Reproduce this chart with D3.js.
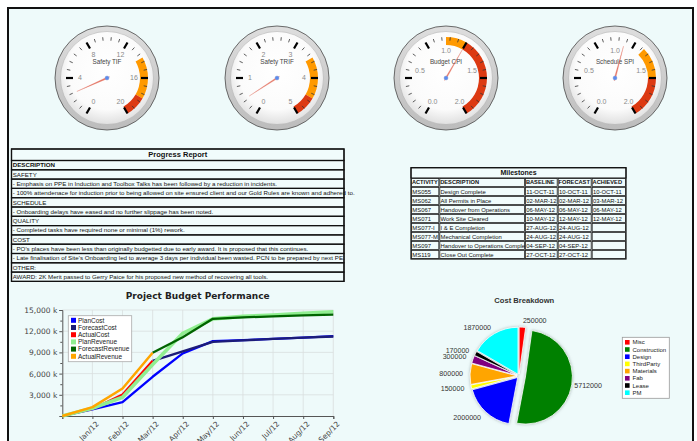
<!DOCTYPE html>
<html>
<head>
<meta charset="utf-8">
<script src="https://cdn.jsdelivr.net/npm/d3@7"></script>
<style>
  body { margin: 0; background: #fff; }
  svg { display: block; }
</style>
</head>
<body>
<svg id="dash" width="697" height="441"></svg>
<script>
// ---------- Gauges ----------
const gaugeTitles = ["Safety TIF", "Safety TRIF", "Budget CPI", "Schedule SPI"];
const gaugeValues = [2.4, 0.45, 1.2, 1.1];
const gaugeMax = [20, 5, 2, 2];
const gaugeLabels = [
  ["0", "4", "8", "12", "16", "20"],
  ["0", "1", "2", "3", "4", "5"],
  ["0.0", "0.5", "1.0", "1.5", "2.0"],
  ["0.0", "0.5", "1.0", "1.5", "2.0"]
];
const gaugeYellowFrom = [14, 3.5, 1.0, 1.3];
const gaugeYellowTo = [18, 4.5, 1.2, 1.6];
const gaugeRedFrom = [18, 4.5, 1.2, 1.6];
const gaugeRedTo = [20, 5, 2, 2];

// ---------- Progress report ----------
const reportTitle = "Progress Report";
const reportRows = [
  "DESCRIPTION",
  "SAFETY",
  "- Emphasis on PPE in Induction and Toolbox Talks has been followed by a reduction in incidents.",
  "- 100% attendenace for induction prior to being allowed on site ensured client and our Gold Rules are known and adhered to.",
  "SCHEDULE",
  "- Onboarding delays have eased and no further slippage has been noted.",
  "QUALITY",
  "- Completed tasks have required none or minimal (1%) rework.",
  "COST",
  "- PO's places have been less than originally budgetted due to early award. It is proposed that this continues.",
  "- Late finalisation of Site's Onboarding led to average 3 days per individual been wasted. PCN to be prepared by next PE.",
  "OTHER:",
  "AWARD: 2K Merit passed to Gerry Paice for his proposed new method of recovering all tools."
];
const reportBoldRows = ["DESCRIPTION"];

// ---------- Milestones ----------
const msTitle = "Milestones";
const msHeaders = ["ACTIVITY", "DESCRIPTION", "BASELINE", "FORECAST", "ACHIEVED"];
const msActivity = ["MS055", "MS062", "MS067", "MS071", "MS077-I", "MS077-M", "MS097", "MS119"];
const msDescription = ["Design Complete", "All Permits in Place", "Handover from Operations", "Work Site Cleared",
  "I & E Completion", "Mechanical Completion", "Handover to Operations Completion", "Close Out Complete"];
const msBaseline = ["11-OCT-11", "02-MAR-12", "06-MAY-12", "10-MAY-12", "27-AUG-12", "24-AUG-12", "04-SEP-12", "27-OCT-12"];
const msForecast = ["10-OCT-11", "02-MAR-12", "06-MAY-12", "12-MAY-12", "24-AUG-12", "24-AUG-12", "04-SEP-12", "27-OCT-12"];
const msAchieved = ["10-OCT-11", "03-MAR-12", "06-MAY-12", "12-MAY-12", "", "", "", ""];

// ---------- Budget performance (values in k) ----------
const monthLabels = ["", "Jan/12", "Feb/12", "Mar/12", "Apr/12", "May/12", "Jun/12", "Jul/12", "Aug/12", "Sep/12"];
const planCost        = [0, 950, 1950, 5550, 8850, 10600, 10750, 10900, 11100, 11300];
const forecastCost    = [null, null, null, 7800, 9150, 10500, 10700, 10900, 11100, 11250];
const actualCost      = [0, 1000, 3050, 7800, null, null, null, null, null, null];
const planRevenue     = [0, 1100, 2650, 7300, 11700, 13750, 14100, 14300, 14550, 14750];
const forecastRevenue = [null, null, null, 8950, 11150, 13750, 13950, 14100, 14250, 14350];
const actualRevenue   = [0, 1250, 3900, 8950, null, null, null, null, null, null];
const budgetSeriesNames = ["PlanCost", "ForecastCost", "ActualCost", "PlanRevenue", "ForecastRevenue", "ActualRevenue"];
const budgetSeriesColors = ["#0000ff", "#1c1c78", "#ff0000", "#90ee90", "#006400", "#ffa500"];
const budgetYTicks = [3000, 6000, 9000, 12000, 15000];

// ---------- Cost breakdown ----------
const costCategories = ["Misc", "Construction", "Design", "ThirdParty", "Materials", "Fab", "Lease", "PM"];
const costValues = [250000, 5712000, 2000000, 150000, 800000, 300000, 170000, 1870000];
const costColors = ["#ff0000", "#008000", "#0000ff", "#ffff00", "#ffa500", "#800080", "#000000", "#00ffff"];

// =====================================================================
const svg = d3.select("#dash");
const defs = svg.append("defs");
const SANS = "'Liberation Sans', Arial, sans-serif";
const DEJAVU = "'DejaVu Sans', Verdana, sans-serif";

// panel
svg.append("rect").attr("x", 8).attr("y", 8).attr("width", 685).attr("height", 470)
  .attr("fill", "#eefafa").attr("stroke", "#111").attr("stroke-width", 2);

// ---------- gauge drawing ----------
const ringGrad = defs.append("linearGradient").attr("id", "ringGrad")
  .attr("x1", 0).attr("y1", 0).attr("x2", 0).attr("y2", 1);
ringGrad.append("stop").attr("offset", 0).attr("stop-color", "#dedede");
ringGrad.append("stop").attr("offset", 1).attr("stop-color", "#bcbcbc");
const faceGrad = defs.append("radialGradient").attr("id", "faceGrad")
  .attr("cx", "50%").attr("cy", "42%").attr("r", "60%");
faceGrad.append("stop").attr("offset", 0).attr("stop-color", "#ffffff");
faceGrad.append("stop").attr("offset", 0.7).attr("stop-color", "#fbfbfb");
faceGrad.append("stop").attr("offset", 1).attr("stop-color", "#dcdcdc");

const gaugeCX = [107, 277, 446, 615];
const gaugeCY = 78;
const rad = d => d * Math.PI / 180;
const polar = (r, a) => [r * Math.sin(a), -r * Math.cos(a)];

gaugeTitles.forEach((title, gi) => {
  const g = svg.append("g").attr("transform", `translate(${gaugeCX[gi]},${gaugeCY})`);
  const ang = d3.scaleLinear().domain([0, gaugeMax[gi]]).range([rad(-150), rad(150)]);

  g.append("circle").attr("r", 52).attr("fill", "url(#ringGrad)").attr("stroke", "#5a5a5a").attr("stroke-width", 0.9);
  g.append("circle").attr("r", 46.5).attr("fill", "url(#faceGrad)").attr("stroke", "#aaa").attr("stroke-width", 0.5);

  const band = d3.arc().innerRadius(33).outerRadius(41);
  g.append("path").attr("d", band({ startAngle: ang(gaugeYellowFrom[gi]), endAngle: ang(gaugeYellowTo[gi]) }))
    .attr("fill", "#ff9900");
  g.append("path").attr("d", band({ startAngle: ang(gaugeRedFrom[gi]), endAngle: ang(gaugeRedTo[gi]) }))
    .attr("fill", "#dc3912");

  // 5 major sections, each split into 5 minor steps
  d3.range(26).forEach(i => {
    const a = rad(-150 + i * 12);
    const major = i % 5 === 0;
    const p1 = polar(major ? 34 : 37.5, a), p2 = polar(41, a);
    g.append("line").attr("x1", p1[0]).attr("y1", p1[1]).attr("x2", p2[0]).attr("y2", p2[1])
      .attr("stroke", major ? "#000" : "#333").attr("stroke-width", major ? 2.2 : 0.8);
  });

  const labs = gaugeLabels[gi];
  labs.forEach((t, j) => {
    const a = rad(-150 + j * 300 / (labs.length - 1));
    const p = polar(27, a);
    g.append("text").attr("x", p[0]).attr("y", p[1]).attr("dy", "0.35em")
      .attr("text-anchor", "middle").attr("font-family", SANS).attr("font-size", 7)
      .attr("fill", "#8a8a8a").text(t);
  });

  g.append("text").attr("x", 0).attr("y", -16).attr("dy", "0.35em").attr("text-anchor", "middle")
    .attr("font-family", SANS).attr("font-size", 6.3).attr("fill", "#444").text(title);

  const a = ang(gaugeValues[gi]);
  const tip = polar(33, a), l = polar(0.7, a - Math.PI / 2), r = polar(0.7, a + Math.PI / 2), tail = polar(-3, a);
  g.append("polygon").attr("points", [tip, l, tail, r].map(p => p.join(",")).join(" "))
    .attr("fill", "#e0503a").attr("fill-opacity", 0.75).attr("stroke", "#e06a58").attr("stroke-width", 0.25);
  g.append("circle").attr("r", 2).attr("fill", "#5a8cf0").attr("stroke", "#8899cc").attr("stroke-width", 0.4);
});

// ---------- progress report table ----------
{
  const x0 = 11.5, x1 = 344, top = 149, titleH = 11.5, rowH = 9.3;
  const t = svg.append("g");
  t.append("rect").attr("x", x0).attr("y", top).attr("width", x1 - x0).attr("height", titleH + rowH * reportRows.length)
    .attr("fill", "#f1fcfc").attr("stroke", "#111").attr("stroke-width", 1.2);
  t.append("rect").attr("x", x0).attr("y", top).attr("width", x1 - x0).attr("height", titleH)
    .attr("fill", "none").attr("stroke", "#111").attr("stroke-width", 1.2);
  t.append("text").attr("x", (x0 + x1) / 2).attr("y", top + titleH / 2).attr("dy", "0.35em")
    .attr("text-anchor", "middle").attr("font-family", SANS).attr("font-weight", "bold")
    .attr("font-size", 7.5).attr("fill", "#111").text(reportTitle);
  reportRows.forEach((row, i) => {
    const y = top + titleH + i * rowH;
    t.append("rect").attr("x", x0).attr("y", y).attr("width", x1 - x0).attr("height", rowH)
      .attr("fill", "none").attr("stroke", "#111").attr("stroke-width", 1.2);
    t.append("text").attr("x", x0 + 1.2).attr("y", y + rowH / 2).attr("dy", "0.35em")
      .attr("font-family", SANS).attr("font-size", 6.2).attr("fill", "#111")
      .attr("font-weight", reportBoldRows.includes(row) ? "bold" : "normal").text(row);
  });
}

// ---------- milestones table ----------
{
  const colX = [411, 439.3, 525, 557.7, 591.7, 626];
  const top = 167.7, titleH = 10.3, rowH = 9;
  const t = svg.append("g");
  t.append("rect").attr("x", colX[0]).attr("y", top).attr("width", colX[5] - colX[0])
    .attr("height", titleH + rowH * (msActivity.length + 1))
    .attr("fill", "#f1fcfc").attr("stroke", "#111").attr("stroke-width", 1.2);
  t.append("rect").attr("x", colX[0]).attr("y", top).attr("width", colX[5] - colX[0]).attr("height", titleH)
    .attr("fill", "none").attr("stroke", "#111").attr("stroke-width", 1);
  t.append("text").attr("x", (colX[0] + colX[5]) / 2).attr("y", top + titleH / 2).attr("dy", "0.35em")
    .attr("text-anchor", "middle").attr("font-family", SANS).attr("font-weight", "bold")
    .attr("font-size", 7).attr("fill", "#111").text(msTitle);

  const rows = [msHeaders].concat(msActivity.map((a, i) =>
    [a, msDescription[i], msBaseline[i], msForecast[i], msAchieved[i]]));
  rows.forEach((cells, ri) => {
    const y = top + titleH + ri * rowH;
    cells.forEach((c, ci) => {
      const cx0 = colX[ci], w = colX[ci + 1] - colX[ci];
      const pad = ri === 0 ? 0.9 : 1.3;
      t.append("rect").attr("x", cx0 + 0.5).attr("y", y + 0.5).attr("width", w - 1).attr("height", rowH - 1)
        .attr("fill", "none").attr("stroke", "#222").attr("stroke-width", 0.8);
      const txt = t.append("text").attr("x", cx0 + pad).attr("y", y + rowH / 2).attr("dy", "0.35em")
        .attr("font-family", SANS).attr("font-size", ri === 0 ? 5.7 : 5.9).attr("fill", "#111")
        .attr("font-weight", ri === 0 ? "bold" : "normal").text(c);
      // long entries are cut at the column's right edge, like a fixed-width table column
      const node = txt.node();
      let s = c;
      while (s.length > 1 && node.getComputedTextLength() > w - pad + 0.6) {
        s = s.slice(0, -1);
        txt.text(s);
      }
    });
  });
}

// ---------- budget line chart ----------
{
  const g = svg.append("g");
  const x = d3.scalePoint().domain(d3.range(monthLabels.length)).range([62.3, 333.3]);
  const y = d3.scaleLinear().domain([0, 15000]).range([416, 310]);

  g.append("text").attr("x", 197.7).attr("y", 296).attr("dy", "0.35em").attr("text-anchor", "middle")
    .attr("font-family", DEJAVU).attr("font-weight", "bold").attr("font-size", 9).attr("fill", "#222")
    .text("Project Budget Performance");

  // grid
  g.append("g").selectAll("line").data(budgetYTicks).join("line")
    .attr("x1", x(0)).attr("x2", x(monthLabels.length - 1)).attr("y1", d => y(d)).attr("y2", d => y(d))
    .attr("stroke", "#d9dede").attr("stroke-width", 0.8);
  g.append("g").selectAll("line").data(d3.range(1, monthLabels.length)).join("line")
    .attr("x1", d => x(d)).attr("x2", d => x(d)).attr("y1", y(0)).attr("y2", y(15000))
    .attr("stroke", "#d9dede").attr("stroke-width", 0.8);

  // axes
  const yAxis = g.append("g").attr("transform", `translate(${x(0)},0)`)
    .call(d3.axisLeft(y).tickValues(budgetYTicks).tickSize(3).tickPadding(2)
      .tickFormat(d => d3.format(",")(d) + " k"));
  g.append("g").attr("transform", `translate(${x(0)},0)`)
    .call(d3.axisLeft(y).tickValues(budgetYTicks.map(v => v - 1500)).tickSize(2).tickFormat(""))
    .call(s => s.select(".domain").remove());
  yAxis.selectAll("text").attr("font-family", DEJAVU).attr("font-size", 7.5).attr("fill", "#444");
  const xAxis = g.append("g").attr("transform", `translate(0,${y(0)})`)
    .call(d3.axisBottom(x).tickSize(3).tickFormat(i => monthLabels[i]));
  xAxis.selectAll("text").attr("font-family", DEJAVU).attr("font-size", 7.5).attr("fill", "#444")
    .attr("text-anchor", "end").attr("dx", "-0.2em").attr("dy", "0.6em")
    .attr("transform", "rotate(-45)");
  g.selectAll(".domain").attr("stroke", "#555");
  g.selectAll(".tick line").attr("stroke", "#555");

  const series = [planCost, forecastCost, actualCost, planRevenue, forecastRevenue, actualRevenue];
  const widths = [2.3, 2.3, 2.3, 3.6, 2.3, 2.5];
  const line = d3.line().defined(d => d != null).x((d, i) => x(i)).y(d => y(d));
  series.forEach((s, i) => {
    g.append("path").attr("d", line(s)).attr("fill", "none").attr("stroke", budgetSeriesColors[i])
      .attr("stroke-width", widths[i]).attr("stroke-linejoin", "round");
  });

  // legend
  const lg = g.append("g");
  lg.append("rect").attr("x", 68.3).attr("y", 315.7).attr("width", 63.4).attr("height", 46)
    .attr("fill", "#fff").attr("stroke", "#aaa").attr("stroke-width", 0.8);
  budgetSeriesNames.forEach((n, i) => {
    const cy = 320.3 + i * 7.2;
    lg.append("rect").attr("x", 71).attr("y", cy - 2.5).attr("width", 5).attr("height", 5).attr("fill", budgetSeriesColors[i]);
    lg.append("text").attr("x", 78).attr("y", cy).attr("dy", "0.35em").attr("font-family", SANS)
      .attr("font-size", 6.5).attr("fill", "#222").text(n);
  });
}

// ---------- cost breakdown pie ----------
{
  const g = svg.append("g");
  const cx = 519, cy = 376, R = 47;
  g.append("text").attr("x", 524.3).attr("y", 300.7).attr("dy", "0.35em").attr("text-anchor", "middle")
    .attr("font-family", SANS).attr("font-weight", "bold").attr("font-size", 7.6).attr("fill", "#333")
    .text("Cost Breakdown");

  const shadow = defs.append("filter").attr("id", "pieShadow").attr("x", "-20%").attr("y", "-20%")
    .attr("width", "140%").attr("height", "140%");
  shadow.append("feDropShadow").attr("dx", 0).attr("dy", 0).attr("stdDeviation", 1.6)
    .attr("flood-color", "#8a9a9a").attr("flood-opacity", 0.7);

  const pie = d3.pie().sort(null).value(d => d);
  const arcs = pie(costValues);
  const arc = d3.arc().innerRadius(0).outerRadius(R);
  const pg = g.append("g").attr("transform", `translate(${cx},${cy})`).attr("filter", "url(#pieShadow)");
  arcs.forEach((a, i) => {
    const mid = (a.startAngle + a.endAngle) / 2;
    const off = i === 1 ? 6.5 : 2;
    const o = polar(off, mid);
    pg.append("path").attr("d", arc(a)).attr("transform", `translate(${o[0]},${o[1]})`)
      .attr("fill", costColors[i]).attr("stroke", "#fff").attr("stroke-width", 0.8);
  });
  arcs.forEach((a, i) => {
    const mid = (a.startAngle + a.endAngle) / 2;
    const p = polar(56, mid);
    g.append("text").attr("x", cx + p[0]).attr("y", cy + p[1]).attr("dy", "0.35em")
      .attr("text-anchor", Math.sin(mid) >= 0 ? "start" : "end")
      .attr("font-family", SANS).attr("font-size", 7.1).attr("fill", "#333").text(costValues[i]);
  });

  const lg = g.append("g");
  lg.append("rect").attr("x", 622.3).attr("y", 337.3).attr("width", 47).attr("height", 61)
    .attr("fill", "#fff").attr("stroke", "#999").attr("stroke-width", 0.8);
  costCategories.forEach((n, i) => {
    const y = 342.3 + i * 7.2;
    lg.append("rect").attr("x", 625).attr("y", y - 2.3).attr("width", 4.6).attr("height", 4.6)
      .attr("fill", costColors[i]);
    lg.append("text").attr("x", 632.5).attr("y", y).attr("dy", "0.35em").attr("font-family", SANS)
      .attr("font-size", 6).attr("fill", "#222").text(n);
  });
}
</script>
</body>
</html>
